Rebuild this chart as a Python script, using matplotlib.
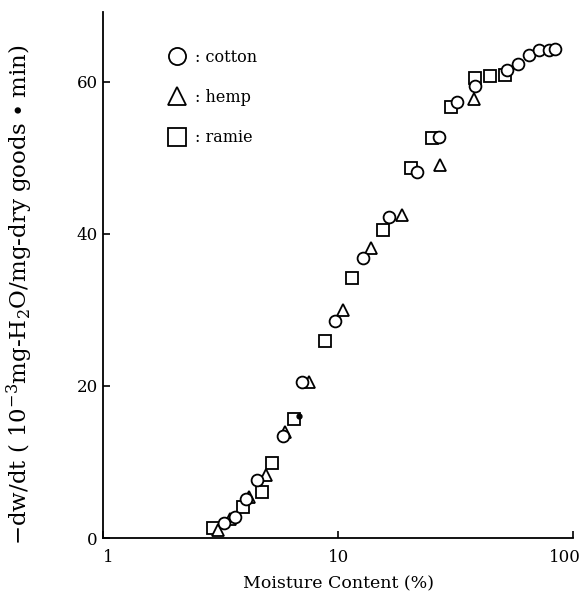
import matplotlib
matplotlib.use("Agg")
import matplotlib.pyplot as plt
import matplotlib.transforms as mtransforms

# Drying rate vs moisture content
cotton_x = [3.27, 3.65, 4.06, 4.52, 5.83, 7.03, 9.71, 12.8, 16.5, 21.7, 26.9, 32.1,
            38.3, 52.4, 58.4, 65.0, 71.7, 79.0, 83.8]
cotton_y = [2.0, 2.8, 5.1, 7.6, 13.4, 20.5, 28.6, 36.8, 42.2, 48.2, 52.8, 57.4,
            59.5, 61.6, 62.4, 63.6, 64.2, 64.2, 64.3]

hemp_x = [3.09, 3.47, 4.18, 4.94, 5.95, 7.53, 10.5, 13.8, 18.7, 27.2, 37.9]
hemp_y = [1.0, 2.5, 5.4, 8.3, 13.9, 20.5, 30.0, 38.2, 42.5, 49.1, 57.8]

ramie_x = [2.94, 3.94, 4.75, 5.24, 6.50, 8.81, 11.5, 15.5, 20.4, 25.1, 30.3, 38.3, 44.3, 51.4]
ramie_y = [1.3, 4.1, 6.1, 9.9, 15.7, 25.9, 34.2, 40.5, 48.7, 52.6, 56.7, 60.5, 60.8, 60.9]

dot_x = [6.8]
dot_y = [16.0]

plt.rcParams['font.family'] = ['DejaVu Serif']
plt.rcParams['mathtext.fontset'] = 'dejavuserif'

fig = plt.figure(figsize=(5.86, 5.98), dpi=100)
ax = fig.add_axes([0.176, 0.1003, 0.802, 0.8797])

style = dict(linestyle='none', markerfacecolor='white', markeredgecolor='black',
             markeredgewidth=1.3, markersize=8.5)
ax.plot(ramie_x, ramie_y, marker='s', label=': ramie', **style)
ax.plot(hemp_x, hemp_y, marker='^', label=': hemp', **style)
ax.plot(cotton_x, cotton_y, marker='o', label=': cotton', **style)
ax.plot(dot_x, dot_y, 'ko', markersize=3.5)

ax.set_xscale('log')
ax.set_xlim(1, 100)
ax.set_ylim(0, 69.2)
ax.set_xticks([1, 10, 100])
ax.set_xticklabels(['1', '10', '100'])
ax.minorticks_off()
ax.set_yticks([0, 20, 40, 60])

ax.spines['top'].set_visible(False)
ax.spines['right'].set_visible(False)
ax.spines['left'].set_linewidth(1.3)
ax.spines['bottom'].set_linewidth(1.3)
ax.tick_params(direction='in', length=5, width=1.2, labelsize=12, pad=4)
ax.tick_params(axis='x', pad=8)

# nudge the end labels of the x axis like the original
xlabels = ax.get_xticklabels()
xlabels[0].set_transform(xlabels[0].get_transform() +
                         mtransforms.ScaledTranslation(5 / 100, 0, fig.dpi_scale_trans))
xlabels[-1].set_transform(xlabels[-1].get_transform() +
                          mtransforms.ScaledTranslation(-8 / 100, 0, fig.dpi_scale_trans))

ax.set_xlabel('Moisture Content (%)', fontsize=12.5, labelpad=7)
ax.set_ylabel(r'$-$dw/dt ( 10$^{-3}$mg-H$_2$O/mg-dry goods $\bullet$ min)',
              fontsize=16.5)
ax.yaxis.set_label_coords(-0.145, 0.463)

handles, labels = ax.get_legend_handles_labels()
ax.legend(handles[::-1][:3], labels[::-1][:3], loc='upper left',
          bbox_to_anchor=(0.142, 0.93), frameon=False, markerscale=1.45,
          borderpad=0, borderaxespad=0,
          handlelength=0.9, handletextpad=0.7, labelspacing=1.45, fontsize=11.5)

fig.savefig('out.png', dpi=100)
